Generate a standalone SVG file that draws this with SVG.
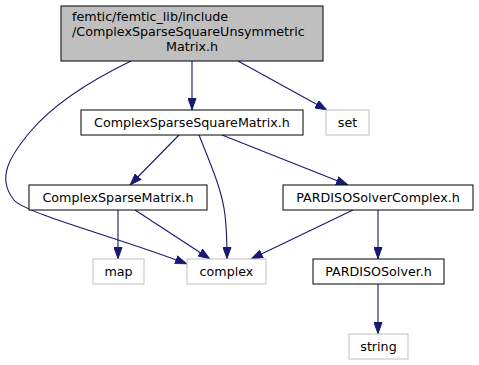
<svg xmlns="http://www.w3.org/2000/svg" width="479" height="365" viewBox="0 0 479 365">
  <style>
    text { font-family: "DejaVu Sans", "Liberation Sans", sans-serif; font-size: 12.7px; fill: #000; }
    .mid { text-anchor: middle; }
    .node rect { fill: #fff; stroke: #000; stroke-width: 1; }
    .root rect { fill: #bfbfbf; stroke: #000; }
    .ext rect { fill: #fff; stroke: #bfbfbf; }
    .edge { fill: none; stroke: #191970; stroke-width: 1.1; }
  </style>
  <defs>
    <marker id="arrow" viewBox="0 0 12 9" refX="12" refY="4.5" markerWidth="12" markerHeight="9" markerUnits="userSpaceOnUse" orient="auto">
      <path d="M0.5,0.5 L11.5,4.5 L0.5,8.5 Z" fill="#191970" stroke="#191970"/>
    </marker>
  </defs>
  <rect width="479" height="365" fill="#fff"/>

  <g id="edges">
    <path class="edge" marker-end="url(#arrow)" d="M192,61 L192,110"/>
    <path class="edge" marker-end="url(#arrow)" d="M238,61 L327,110"/>
    <path class="edge" marker-end="url(#arrow)" d="M131,61 C96,78 55,102 30,132 C10,156 -4,178 14,200 C26,214 120,238 187,264"/>
    <path class="edge" marker-end="url(#arrow)" d="M179,135 L130,185"/>
    <path class="edge" marker-end="url(#arrow)" d="M199,135 C212,168 222,190 225,215 C227,232 227,245 227,259"/>
    <path class="edge" marker-end="url(#arrow)" d="M222,135 L348,185"/>
    <path class="edge" marker-end="url(#arrow)" d="M118,210 L118,259"/>
    <path class="edge" marker-end="url(#arrow)" d="M135,210 L210,259"/>
    <path class="edge" marker-end="url(#arrow)" d="M353,210 L251,259"/>
    <path class="edge" marker-end="url(#arrow)" d="M378,210 L378,259"/>
    <path class="edge" marker-end="url(#arrow)" d="M378,284 L378,334"/>
  </g>

  <g id="node-root" class="node root">
    <rect x="61" y="6" width="262" height="55"/>
    <text x="72" y="21">femtic/femtic_lib/include</text>
    <text x="72" y="36">/ComplexSparseSquareUnsymmetric</text>
    <text class="mid" x="192" y="51">Matrix.h</text>
  </g>
  <g id="node-cssm" class="node">
    <rect x="81" y="110" width="222" height="25"/>
    <text class="mid" x="192" y="127">ComplexSparseSquareMatrix.h</text>
  </g>
  <g id="node-set" class="node ext">
    <rect x="326" y="110" width="43" height="25"/>
    <text class="mid" x="347.5" y="127">set</text>
  </g>
  <g id="node-csm" class="node">
    <rect x="29" y="185" width="178" height="25"/>
    <text class="mid" x="118" y="202">ComplexSparseMatrix.h</text>
  </g>
  <g id="node-psc" class="node">
    <rect x="283" y="185" width="190" height="25"/>
    <text class="mid" x="378" y="202">PARDISOSolverComplex.h</text>
  </g>
  <g id="node-map" class="node ext">
    <rect x="93" y="259" width="51" height="25"/>
    <text class="mid" x="118.5" y="276">map</text>
  </g>
  <g id="node-complex" class="node ext">
    <rect x="187" y="259" width="79" height="25"/>
    <text class="mid" x="226.5" y="276">complex</text>
  </g>
  <g id="node-ps" class="node">
    <rect x="313" y="259" width="131" height="25"/>
    <text class="mid" x="378.5" y="276">PARDISOSolver.h</text>
  </g>
  <g id="node-string" class="node ext">
    <rect x="349" y="334" width="59" height="25"/>
    <text class="mid" x="378.5" y="351">string</text>
  </g>
</svg>
